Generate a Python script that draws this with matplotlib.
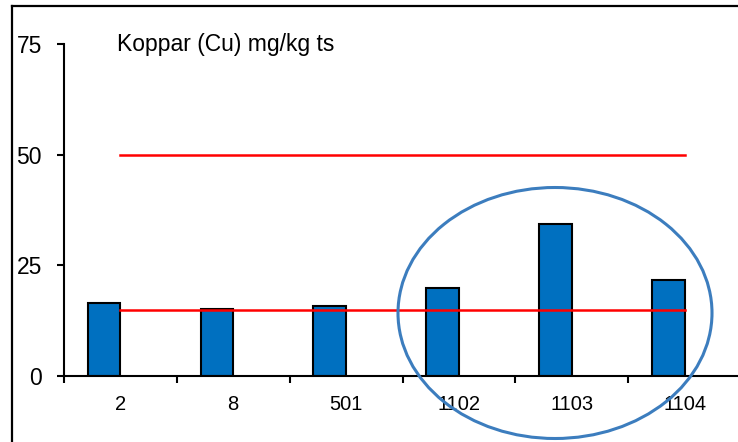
import matplotlib.pyplot as plt
from matplotlib.patches import Ellipse
from matplotlib.lines import Line2D
import numpy as np

# Koppar (Cu) per provpunkt, mg/kg ts
stations = ['2', '8', '501', '1102', '1103', '1104']
copper = [16.5, 15.2, 15.8, 19.9, 34.3, 21.7]
limit_low = 15
limit_high = 50
y_ticks = [0, 25, 50, 75]

plt.rcParams['font.family'] = ['Liberation Sans', 'DejaVu Sans']

fig = plt.figure(figsize=(7.38, 4.42), dpi=100)
ax = fig.add_axes([64 / 738, 66 / 442, 677 / 738, 332 / 442])

x = np.arange(len(stations))
bar_w = 0.29
ax.bar(x - bar_w / 2, copper, width=bar_w, color='#0070C0',
       edgecolor='black', linewidth=1.5, zorder=2)

# riktvärden
ax.plot([x[0], x[-1]], [limit_low, limit_low], color='red', linewidth=1.8, zorder=3)
ax.plot([x[0], x[-1]], [limit_high, limit_high], color='red', linewidth=1.8, zorder=3)

ax.set_xlim(-0.5, len(stations) - 0.5)
ax.set_ylim(0, 75)
ax.set_yticks(y_ticks)
ax.tick_params(axis='y', direction='out', length=5, width=1.5, pad=11, labelsize=16.5)

# category ticks between the bars, labels centred under them
ax.set_xticks(np.arange(len(stations) + 1) - 0.5)
ax.set_xticklabels([])
ax.set_xticks(x, minor=True)
ax.set_xticklabels(stations, minor=True)
ax.tick_params(axis='x', which='major', direction='out', length=5, width=1.5)
ax.tick_params(axis='x', which='minor', length=0, pad=14, labelsize=14.5)

for side in ['top', 'right']:
    ax.spines[side].set_visible(False)
for side in ['left', 'bottom']:
    ax.spines[side].set_linewidth(1.5)
    ax.spines[side].set_zorder(4)

fig.text(117 / 738, 1 - 44 / 442, 'Koppar (Cu) mg/kg ts', fontsize=16.5,
         ha='left', va='center')

# chart frame
fig.add_artist(Line2D([12 / 738, 1], [1 - 6 / 442, 1 - 6 / 442],
                      transform=fig.transFigure, color='black', linewidth=1.6))
fig.add_artist(Line2D([12 / 738, 12 / 738], [0, 1 - 6 / 442],
                      transform=fig.transFigure, color='black', linewidth=1.6))

# ring around the 1100-series
fig.add_artist(Ellipse((555 / 738, 1 - 313 / 442), 314 / 738, 251 / 442,
                       transform=fig.transFigure, fill=False,
                       edgecolor='#3C7DBE', linewidth=2.2))

fig.savefig('out.png', dpi=100)
